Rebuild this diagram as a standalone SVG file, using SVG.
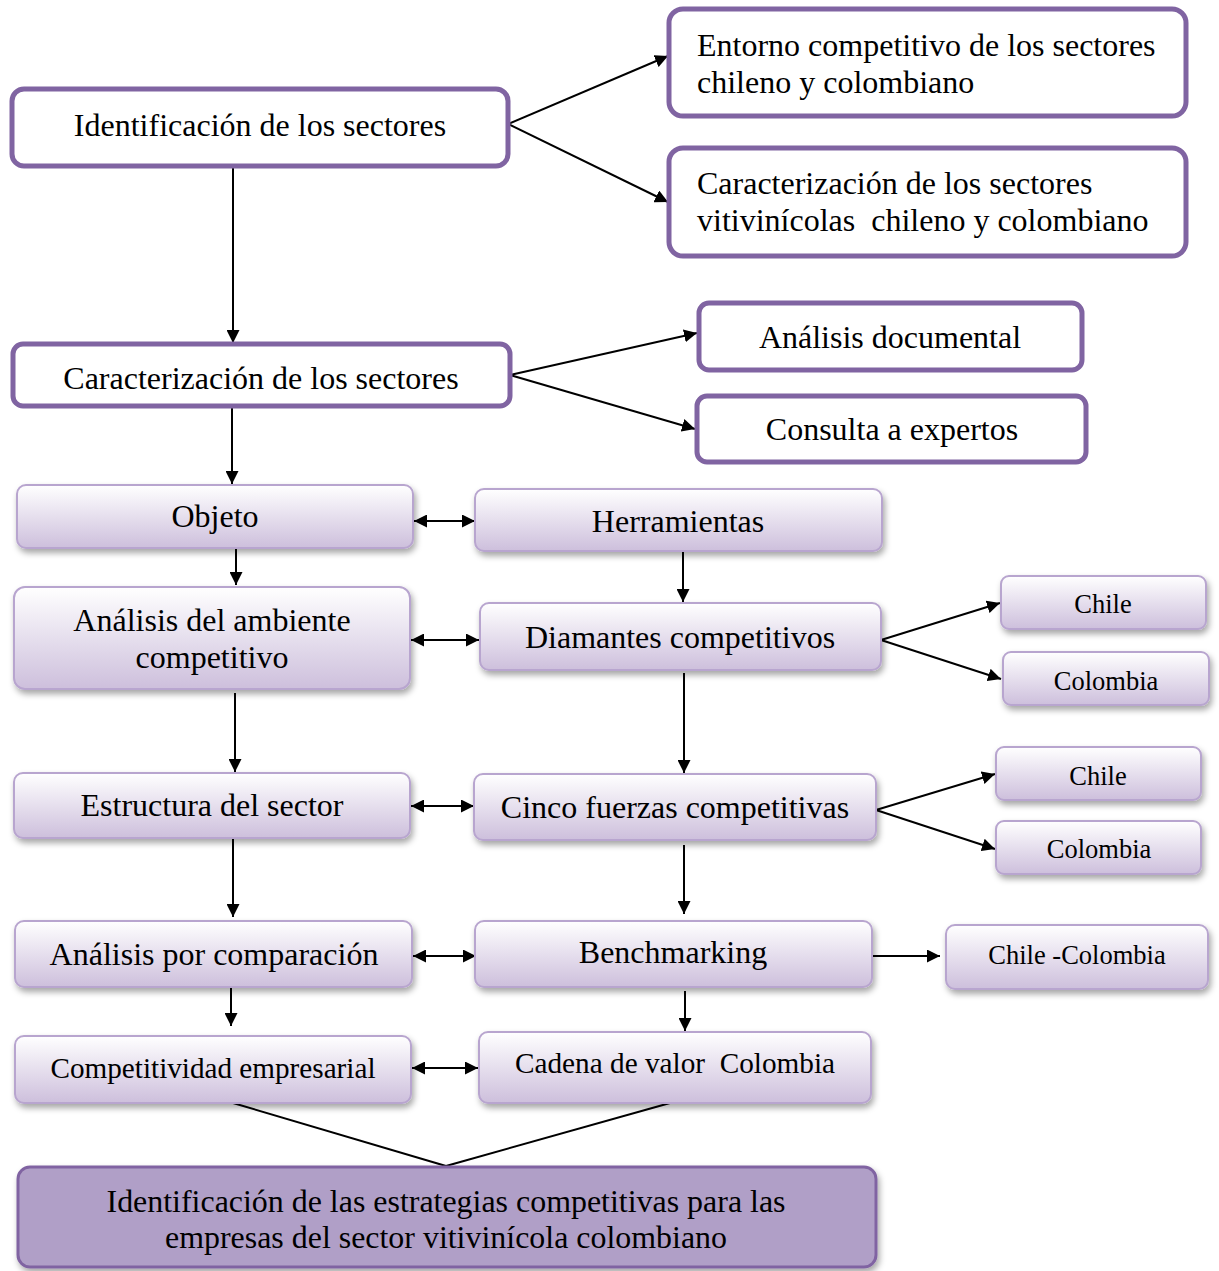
<svg xmlns="http://www.w3.org/2000/svg" width="1219" height="1271" viewBox="0 0 1219 1271">
  <defs>
    <linearGradient id="lav" x1="0" y1="0" x2="0" y2="1">
      <stop offset="0" stop-color="#ffffff"/>
      <stop offset="1" stop-color="#cdbfdc"/>
    </linearGradient>
    <filter id="shadow" x="-10%" y="-20%" width="120%" height="150%">
      <feDropShadow dx="2" dy="4" stdDeviation="3" flood-color="#000" flood-opacity="0.35"/>
    </filter>
    <marker id="arrow" viewBox="0 0 13 13" refX="13" refY="6.5" markerWidth="13" markerHeight="13" markerUnits="userSpaceOnUse" orient="auto-start-reverse">
      <path d="M0,0 L13,6.5 L0,13 z" fill="#000"/>
    </marker>
  </defs>
  <style>
    text { font-family: "Liberation Serif", "Times New Roman", serif; fill: #000; }
    .big { font-size: 32px; }
    .mdm { font-size: 30px; }
    .sml { font-size: 26.5px; }
    .mid { text-anchor: middle; }
    .pre { white-space: pre; }
    .plain { fill: #fff; stroke: #8064a2; stroke-width: 5; }
    .soft { fill: url(#lav); stroke: #b8a5cf; stroke-width: 2; filter: url(#shadow); }
    .final { fill: #b09fc7; stroke: #8064a2; stroke-width: 3; filter: url(#shadow); }
    .conn line { stroke: #000; stroke-width: 2; fill: none; }
    .one { marker-end: url(#arrow); }
    .two { marker-start: url(#arrow); marker-end: url(#arrow); }
  </style>

  <rect width="1219" height="1271" fill="#fff"/>

  <!-- connectors -->
  <g class="conn" id="connectors">
    <line class="one" x1="508" y1="124" x2="668" y2="56"/>
    <line class="one" x1="508" y1="124" x2="668" y2="202"/>
    <line class="one" x1="233" y1="166" x2="233" y2="343"/>
    <line class="one" x1="510" y1="375" x2="697" y2="333"/>
    <line class="one" x1="510" y1="375" x2="695" y2="429"/>
    <line class="one" x1="232" y1="408" x2="232" y2="484"/>

    <line class="two" x1="414" y1="521" x2="475" y2="521"/>
    <line class="two" x1="411" y1="640" x2="479" y2="640"/>
    <line class="two" x1="411" y1="806" x2="474" y2="806"/>
    <line class="two" x1="413" y1="956" x2="476" y2="956"/>
    <line class="two" x1="412" y1="1068" x2="478" y2="1068"/>

    <line class="one" x1="236" y1="548" x2="236" y2="585"/>
    <line class="one" x1="235" y1="693" x2="235" y2="772"/>
    <line class="one" x1="233" y1="838" x2="233" y2="917"/>
    <line class="one" x1="231" y1="986" x2="231" y2="1026"/>

    <line class="one" x1="683" y1="552" x2="683" y2="602"/>
    <line class="one" x1="684" y1="673" x2="684" y2="773"/>
    <line class="one" x1="684" y1="845" x2="684" y2="914"/>
    <line class="one" x1="685" y1="991" x2="685" y2="1031"/>

    <line class="one" x1="881" y1="640" x2="1000" y2="603"/>
    <line class="one" x1="881" y1="640" x2="1001" y2="679"/>
    <line class="one" x1="876" y1="810" x2="995" y2="774"/>
    <line class="one" x1="876" y1="810" x2="995" y2="849"/>
    <line class="one" x1="872" y1="956" x2="940" y2="956"/>

    <line x1="233" y1="1103" x2="446" y2="1166"/>
    <line x1="670" y1="1103" x2="446" y2="1166"/>
  </g>

  <!-- outlined stages -->
  <g id="identificacion">
    <rect class="plain" x="12" y="89" width="496" height="77" rx="12"/>
    <text class="big mid" x="260" y="136">Identificación de los sectores</text>
  </g>
  <g id="entorno">
    <rect class="plain" x="669" y="9" width="517" height="107" rx="14"/>
    <text class="big" x="697" y="56">Entorno competitivo de los sectores</text>
    <text class="big" x="697" y="93">chileno y colombiano</text>
  </g>
  <g id="caract-viti">
    <rect class="plain" x="669" y="148" width="517" height="108" rx="14"/>
    <text class="big" x="697" y="194">Caracterización de los sectores</text>
    <text class="big pre" x="697" y="231">vitivinícolas  chileno y colombiano</text>
  </g>
  <g id="caracterizacion">
    <rect class="plain" x="13" y="344" width="497" height="62" rx="10"/>
    <text class="big mid" x="261" y="389">Caracterización de los sectores</text>
  </g>
  <g id="documental">
    <rect class="plain" x="699" y="303" width="383" height="67" rx="10"/>
    <text class="big mid" x="890" y="348">Análisis documental</text>
  </g>
  <g id="expertos">
    <rect class="plain" x="697" y="396" width="389" height="66" rx="10"/>
    <text class="big mid" x="892" y="440">Consulta a expertos</text>
  </g>

  <!-- left column -->
  <g id="objeto">
    <rect class="soft" x="17" y="485" width="396" height="63" rx="9"/>
    <text class="big mid" x="215" y="527">Objeto</text>
  </g>
  <g id="ambiente">
    <rect class="soft" x="14" y="587" width="396" height="102" rx="11"/>
    <text class="big mid" x="212" y="631">Análisis del ambiente</text>
    <text class="big mid" x="212" y="668">competitivo</text>
  </g>
  <g id="estructura">
    <rect class="soft" x="14" y="773" width="396" height="65" rx="9"/>
    <text class="big mid" x="212" y="816">Estructura del sector</text>
  </g>
  <g id="comparacion">
    <rect class="soft" x="15" y="921" width="397" height="66" rx="9"/>
    <text class="big mid" x="214" y="965">Análisis por comparación</text>
  </g>
  <g id="competitividad">
    <rect class="soft" x="15" y="1036" width="396" height="67" rx="9"/>
    <text class="mdm mid" x="213" y="1078" textLength="325" lengthAdjust="spacingAndGlyphs">Competitividad empresarial</text>
  </g>

  <!-- right column -->
  <g id="herramientas">
    <rect class="soft" x="475" y="489" width="407" height="62" rx="9"/>
    <text class="big mid" x="678" y="532">Herramientas</text>
  </g>
  <g id="diamantes">
    <rect class="soft" x="480" y="603" width="401" height="67" rx="9"/>
    <text class="big mid" x="680" y="648">Diamantes competitivos</text>
  </g>
  <g id="cinco">
    <rect class="soft" x="474" y="774" width="402" height="66" rx="9"/>
    <text class="big mid" x="675" y="818">Cinco fuerzas competitivas</text>
  </g>
  <g id="benchmarking">
    <rect class="soft" x="475" y="921" width="397" height="66" rx="9"/>
    <text class="big mid" x="673" y="963">Benchmarking</text>
  </g>
  <g id="cadena">
    <rect class="soft" x="479" y="1032" width="392" height="71" rx="9"/>
    <text class="mdm mid pre" x="675" y="1073" textLength="320" lengthAdjust="spacingAndGlyphs">Cadena de valor  Colombia</text>
  </g>

  <!-- country boxes -->
  <g id="chile-1">
    <rect class="soft" x="1001" y="576" width="205" height="53" rx="8"/>
    <text class="sml mid" x="1103" y="613">Chile</text>
  </g>
  <g id="colombia-1">
    <rect class="soft" x="1003" y="652" width="206" height="53" rx="8"/>
    <text class="sml mid" x="1106" y="690">Colombia</text>
  </g>
  <g id="chile-2">
    <rect class="soft" x="996" y="747" width="205" height="53" rx="8"/>
    <text class="sml mid" x="1098" y="785">Chile</text>
  </g>
  <g id="colombia-2">
    <rect class="soft" x="996" y="821" width="205" height="53" rx="8"/>
    <text class="sml mid" x="1099" y="858">Colombia</text>
  </g>
  <g id="chile-colombia">
    <rect class="soft" x="946" y="925" width="262" height="64" rx="9"/>
    <text class="sml mid" x="1077" y="964">Chile -Colombia</text>
  </g>

  <!-- outcome -->
  <g id="estrategias">
    <rect class="final" x="18" y="1167" width="858" height="100" rx="12"/>
    <text class="big mid" x="446" y="1212" textLength="679" lengthAdjust="spacingAndGlyphs">Identificación de las estrategias competitivas para las</text>
    <text class="big mid" x="446" y="1248" textLength="562" lengthAdjust="spacingAndGlyphs">empresas del sector vitivinícola colombiano</text>
  </g>
</svg>
